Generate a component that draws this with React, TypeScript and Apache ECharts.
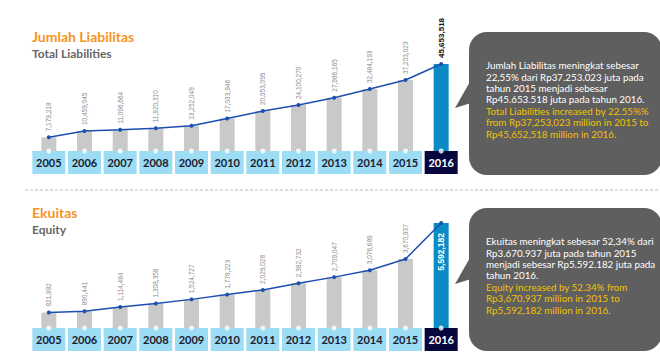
import React, { useEffect, useRef } from "react";
import * as echarts from "echarts";

const years = ["2005", "2006", "2007", "2008", "2009", "2010", "2011", "2012", "2013", "2014", "2015", "2016"];
const liabilities = [7179218, 10459045, 11096664, 11920310, 13252049, 17033946, 20953099, 24100270, 27986165, 32484193, 37253023, 45653518];
const equity = [821882, 890441, 1114484, 1308358, 1524727, 1778223, 2029028, 2382732, 2709047, 3076689, 3670937, 5592182];

const titleLiab = "Jumlah Liabilitas";
const subLiab = "Total Liabilities";
const titleEq = "Ekuitas";
const subEq = "Equity";

const liabTextId = "Jumlah Liabilitas meningkat sebesar\n22,55% dari Rp37.253.023 juta pada\ntahun 2015 menjadi sebesar\nRp45.653.518 juta pada tahun 2016.";
const liabTextEn = "Total Liabilities increased by 22.55%%\nfrom Rp37,253,023 million in 2015 to\nRp45,652,518 million in 2016.";
const eqTextId = "Ekuitas meningkat sebesar 52,34% dari\nRp3.670.937 juta pada tahun 2015\nmenjadi sebesar Rp5.592.182 juta pada\ntahun 2016.";
const eqTextEn = "Equity increased by 52.34% from\nRp3,670,937 million in 2015 to\nRp5,592,182 million in 2016.";

const FONT = "Lato, 'Open Sans', sans-serif";
const GRAY_BAR = "#c9c9c9";
const BLUE_BAR = "#0a8bc4";
const LINE = "#1c4fb0";
const BOX = "#9cdcf5";
const NAVY = "#07073d";
const BUBBLE = "#5f5f5f";
const YELLOW = "#f2c200";
const ORANGE = "#f7941d";

const fmt = (v: number) => v.toLocaleString("en-US");

function makeXAxis(gridIndex: number) {
  return {
    type: "category",
    gridIndex,
    data: years.map((y, i) =>
      i === years.length - 1
        ? { value: y, textStyle: { backgroundColor: NAVY, color: "#ffffff" } }
        : y
    ),
    axisLine: { show: false },
    axisTick: { show: false },
    splitLine: { show: false },
    axisLabel: {
      interval: 0,
      margin: 0,
      width: 33,
      height: 23,
      lineHeight: 23,
      align: "center",
      verticalAlign: "top",
      backgroundColor: BOX,
      color: "#1b1b2f",
      fontSize: 11,
      fontWeight: "bold",
      fontFamily: FONT,
    },
  };
}

function makeSeries(idx: number, values: number[], lastLabel: any) {
  const last = values.length - 1;
  return [
    {
      type: "bar",
      xAxisIndex: idx,
      yAxisIndex: idx,
      barWidth: 15,
      data: values.map((v, i) =>
        i === last
          ? { value: v, itemStyle: { color: BLUE_BAR }, label: lastLabel }
          : v
      ),
      itemStyle: { color: GRAY_BAR },
      label: {
        show: true,
        position: "top",
        rotate: 90,
        align: "left",
        verticalAlign: "middle",
        distance: 6,
        color: "#8c8c8c",
        fontSize: 6.5,
        fontFamily: "'Liberation Sans', Arial, sans-serif",
        formatter: (p: any) => fmt(p.value),
      },
      z: 2,
    },
    {
      type: "line",
      xAxisIndex: idx,
      yAxisIndex: idx,
      data: values,
      symbol: "circle",
      symbolSize: 4,
      itemStyle: { color: LINE },
      lineStyle: { color: LINE, width: 1.5 },
      z: 4,
    },
    {
      type: "scatter",
      xAxisIndex: idx,
      yAxisIndex: idx,
      data: values.map(() => 0),
      symbol: "circle",
      symbolSize: 5,
      itemStyle: { color: "#ffffff" },
      clip: false,
      z: 5,
    },
  ];
}

function bubble(dy: number, textId: string, textEn: string, yEn: number) {
  return [
    {
      type: "rect",
      shape: { x: 469, y: 32 + dy, width: 193, height: 143, r: 18 },
      style: { fill: BUBBLE },
    },
    {
      type: "polygon",
      shape: { points: [[471, 80 + dy], [455, 108 + dy], [471, 103 + dy]] },
      style: { fill: BUBBLE },
    },
    {
      type: "text",
      x: 486,
      y: 59.5 + dy,
      style: {
        text: textId,
        fill: "#ffffff",
        fontSize: 9.8,
        fontFamily: FONT,
        lineHeight: 11.4,
      },
    },
    {
      type: "text",
      x: 486,
      y: yEn + dy,
      style: {
        text: textEn,
        fill: YELLOW,
        fontSize: 9.8,
        fontFamily: FONT,
        lineHeight: 11.4,
      },
    },
  ];
}

export default function App() {
  const ref = useRef<HTMLDivElement>(null);
  useEffect(() => {
    if (!ref.current) return;
    const chart = echarts.init(ref.current, null, { renderer: "svg" });
    const option: any = {
      animation: false,
      backgroundColor: "#ffffff",
      grid: [
        { left: 31, right: 201, top: 64, bottom: 205 },
        { left: 31, right: 201, top: 223, bottom: 28 },
      ],
      xAxis: [makeXAxis(0), makeXAxis(1)],
      yAxis: [
        { type: "value", gridIndex: 0, min: 0, max: Math.max(...liabilities), show: false, splitLine: { show: false } },
        { type: "value", gridIndex: 1, min: 0, max: Math.max(...equity), show: false, splitLine: { show: false } },
      ],
      series: [
        ...makeSeries(0, liabilities, {
          color: "#111111",
          fontWeight: "bold",
          fontSize: 8,
        }),
        ...makeSeries(1, equity, {
          position: "insideTop",
          align: "right",
          distance: 10,
          color: "#ffffff",
          fontWeight: "bold",
          fontSize: 8.5,
        }),
      ],
      graphic: [
        { type: "text", x: 32, y: 28, style: { text: titleLiab, fill: ORANGE, fontSize: 14, fontWeight: "bold", fontFamily: FONT, lineHeight: 16 } },
        { type: "text", x: 32, y: 46, style: { text: subLiab, fill: "#666666", fontSize: 12, fontWeight: "bold", fontFamily: FONT, lineHeight: 14 } },
        { type: "text", x: 32, y: 204, style: { text: titleEq, fill: ORANGE, fontSize: 14, fontWeight: "bold", fontFamily: FONT, lineHeight: 16 } },
        { type: "text", x: 32, y: 222, style: { text: subEq, fill: "#666666", fontSize: 12, fontWeight: "bold", fontFamily: FONT, lineHeight: 14 } },
        { type: "line", shape: { x1: 25, y1: 190, x2: 660, y2: 190 }, style: { stroke: "#bdbdbd", lineWidth: 1, lineDash: [3, 2] } },
        ...bubble(0, liabTextId, liabTextEn, 105.1),
        ...bubble(176, eqTextId, eqTextEn, 105.1),
      ],
    };
    chart.setOption(option);
    return () => chart.dispose();
  }, []);
  return (
    <div
      ref={ref}
      style={{ position: "absolute", left: 0, top: 0, width: 660, height: 356 }}
    />
  );
}
